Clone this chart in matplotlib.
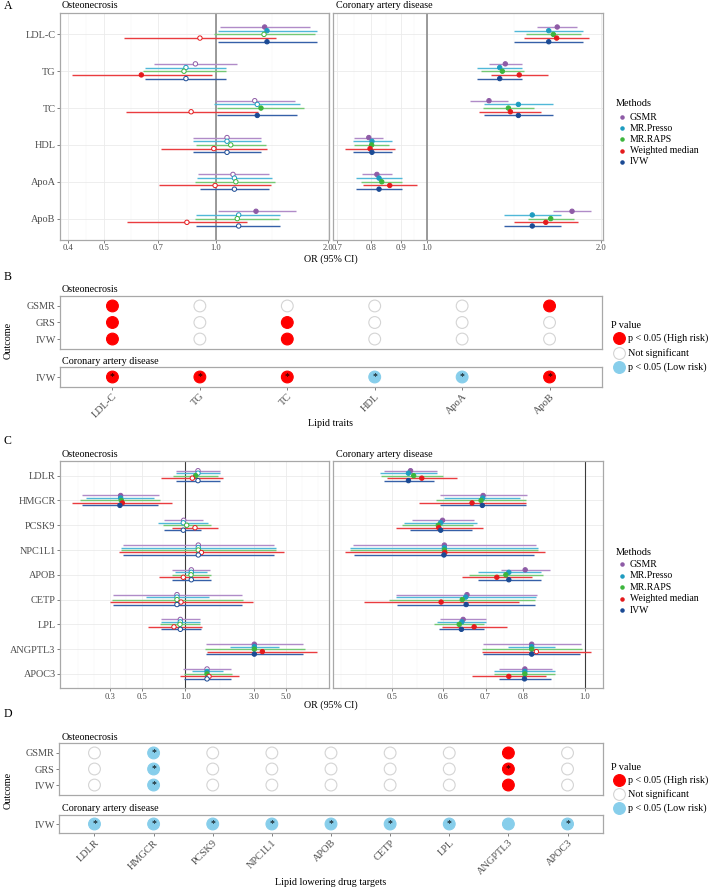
import numpy as np
import matplotlib.pyplot as plt
from matplotlib.ticker import FixedLocator, FixedFormatter, NullFormatter

plt.rcParams['font.family'] = ['Liberation Serif', 'DejaVu Serif']

# ---------------- data ----------------
methods = ['GSMR', 'MR.Presso', 'MR.RAPS', 'Weighted median', 'IVW']
point_colors = ['#8E5BA6', '#1E9CC0', '#3DB53D', '#E41A1C', '#1B4A94']
line_colors = ['#B08BC8', '#50B8D8', '#74C874', '#EA3C3F', '#3560A8']

lipid_traits = ['LDL-C', 'TG', 'TC', 'HDL', 'ApoA', 'ApoB']
drug_targets = ['LDLR', 'HMGCR', 'PCSK9', 'NPC1L1', 'APOB', 'CETP', 'LPL', 'ANGPTL3', 'APOC3']

# Panel A - osteonecrosis (rows: methods, columns: lipid traits)
a_on_or = [[1.35, 0.88, 1.27, 1.07, 1.11, 1.28],
           [1.37, 0.83, 1.29, 1.07, 1.12, 1.15],
           [1.345, 0.82, 1.32, 1.095, 1.13, 1.14],
           [0.905, 0.63, 0.857, 0.986, 0.994, 0.835],
           [1.37, 0.83, 1.29, 1.07, 1.12, 1.15]]
a_on_lo = [[1.025, 0.68, 0.994, 0.868, 0.896, 1.01],
           [1.01, 0.644, 0.986, 0.868, 0.89, 0.885],
           [0.99, 0.635, 1.006, 0.882, 0.876, 0.876],
           [0.567, 0.41, 0.573, 0.71, 0.704, 0.577],
           [1.01, 0.646, 1.006, 0.868, 0.905, 0.885]]
a_on_hi = [[1.79, 1.136, 1.63, 1.318, 1.385, 1.637],
           [1.867, 1.063, 1.68, 1.318, 1.41, 1.485],
           [1.84, 1.063, 1.726, 1.362, 1.437, 1.473],
           [1.449, 0.973, 1.294, 1.371, 1.402, 1.208],
           [1.867, 1.063, 1.65, 1.318, 1.39, 1.485]]
a_on_sig = [[1, 0, 0, 0, 0, 1],
            [1, 0, 0, 0, 0, 0],
            [0, 0, 1, 0, 0, 0],
            [0, 1, 0, 0, 0, 0],
            [1, 0, 1, 0, 0, 0]]

# Panel A - coronary artery disease
a_cad_or = [[1.68, 1.366, 1.28, 0.793, 0.819, 1.782],
            [1.624, 1.336, 1.439, 0.803, 0.826, 1.521],
            [1.654, 1.35, 1.383, 0.802, 0.835, 1.637],
            [1.676, 1.444, 1.394, 0.797, 0.862, 1.605],
            [1.624, 1.336, 1.439, 0.803, 0.826, 1.521]]
a_cad_lo = [[1.552, 1.28, 1.189, 0.749, 0.771, 1.654],
            [1.416, 1.22, 1.253, 0.744, 0.755, 1.359],
            [1.483, 1.242, 1.248, 0.749, 0.769, 1.497],
            [1.474, 1.289, 1.232, 0.721, 0.774, 1.413],
            [1.416, 1.22, 1.253, 0.744, 0.755, 1.359]]
a_cad_hi = [[1.82, 1.46, 1.379, 0.838, 0.87, 1.92],
            [1.862, 1.46, 1.65, 0.869, 0.905, 1.703],
            [1.847, 1.47, 1.53, 0.86, 0.906, 1.796],
            [1.909, 1.621, 1.577, 0.881, 0.961, 1.825],
            [1.862, 1.46, 1.65, 0.869, 0.905, 1.703]]
a_cad_sig = [[1, 1, 1, 1, 1, 1]] * 5

# Panel B - significance matrix (H: high risk, L: low risk, N: not significant)
b_on_rows = ['GSMR', 'GRS', 'IVW']
b_on_status = [['H', 'N', 'N', 'N', 'N', 'H'],
               ['H', 'N', 'H', 'N', 'N', 'N'],
               ['H', 'N', 'H', 'N', 'N', 'N']]
b_on_star = [[0, 0, 0, 0, 0, 0]] * 3
b_cad_rows = ['IVW']
b_cad_status = [['H', 'H', 'H', 'L', 'L', 'H']]
b_cad_star = [[1, 1, 1, 1, 1, 1]]

# Panel C - osteonecrosis (rows: methods, columns: drug targets)
c_on_or = [[1.226, 0.357, 0.976, 1.232, 1.102, 0.877, 0.925, 3.01, 1.416],
           [1.226, 0.357, 0.97, 1.232, 1.102, 0.877, 0.925, 3.01, 1.416],
           [1.182, 0.361, 1.024, 1.232, 1.097, 0.877, 0.92, 3.01, 1.416],
           [1.12, 0.367, 1.169, 1.293, 0.97, 0.935, 0.836, 3.42, 1.462],
           [1.226, 0.353, 0.97, 1.232, 1.102, 0.877, 0.925, 3.01, 1.416]]
c_on_lo = [[0.864, 0.194, 0.717, 0.369, 0.81, 0.318, 0.683, 1.393, 0.97],
           [0.864, 0.206, 0.651, 0.357, 0.854, 0.535, 0.683, 2.043, 1.115],
           [0.819, 0.187, 0.698, 0.357, 0.806, 0.31, 0.669, 1.365, 0.98],
           [0.683, 0.164, 0.814, 0.348, 0.655, 0.301, 0.553, 1.422, 0.92],
           [0.864, 0.194, 0.713, 0.369, 0.81, 0.318, 0.683, 1.393, 0.98]]
c_on_hi = [[1.742, 0.662, 1.335, 4.14, 1.485, 2.462, 1.266, 6.58, 2.066],
           [1.742, 0.608, 1.445, 4.26, 1.422, 1.462, 1.266, 4.44, 1.818],
           [1.695, 0.669, 1.502, 4.26, 1.502, 2.526, 1.266, 6.73, 2.10],
           [1.836, 0.806, 1.695, 4.83, 1.455, 2.935, 1.301, 8.22, 2.347],
           [1.742, 0.651, 1.293, 4.14, 1.502, 2.462, 1.28, 6.58, 2.066]]
c_on_sig = [[0, 1, 0, 0, 0, 0, 0, 1, 0],
            [0, 1, 0, 0, 0, 0, 0, 1, 1],
            [1, 1, 0, 0, 0, 0, 0, 1, 1],
            [0, 1, 0, 0, 0, 0, 0, 1, 0],
            [0, 1, 0, 0, 0, 0, 0, 1, 0]]

# Panel C - coronary artery disease
c_cad_or = [[0.535, 0.694, 0.600, 0.604, 0.807, 0.655, 0.646, 0.826, 0.806],
            [0.531, 0.693, 0.596, 0.604, 0.761, 0.652, 0.643, 0.826, 0.806],
            [0.541, 0.689, 0.591, 0.604, 0.753, 0.644, 0.637, 0.826, 0.806],
            [0.557, 0.667, 0.592, 0.605, 0.729, 0.597, 0.672, 0.84, 0.761],
            [0.531, 0.692, 0.596, 0.603, 0.761, 0.653, 0.642, 0.826, 0.805]]
c_cad_lo = [[0.487, 0.595, 0.537, 0.435, 0.739, 0.508, 0.595, 0.693, 0.735],
            [0.4795, 0.603, 0.523, 0.431, 0.681, 0.508, 0.588, 0.76, 0.722],
            [0.482, 0.586, 0.518, 0.431, 0.66, 0.495, 0.582, 0.69, 0.722],
            [0.491, 0.551, 0.508, 0.423, 0.643, 0.452, 0.598, 0.692, 0.666],
            [0.486, 0.595, 0.534, 0.437, 0.681, 0.509, 0.592, 0.694, 0.734]]
c_cad_hi = [[0.589, 0.811, 0.672, 0.839, 0.882, 0.843, 0.701, 0.985, 0.887],
            [0.588, 0.792, 0.68, 0.846, 0.855, 0.838, 0.701, 0.898, 0.898],
            [0.60, 0.808, 0.67, 0.846, 0.859, 0.836, 0.697, 0.988, 0.898],
            [0.631, 0.809, 0.694, 0.866, 0.828, 0.788, 0.755, 1.021, 0.87],
            [0.582, 0.808, 0.666, 0.834, 0.855, 0.836, 0.696, 0.983, 0.884]]
c_cad_sig = [[1, 1, 1, 1, 1, 1, 1, 1, 1],
             [1, 1, 1, 1, 1, 1, 1, 1, 1],
             [1, 1, 1, 1, 1, 1, 1, 1, 1],
             [1, 1, 1, 1, 1, 1, 1, 0, 1],
             [1, 1, 1, 1, 1, 1, 1, 1, 1]]

# Panel D - significance matrix
d_on_rows = ['GSMR', 'GRS', 'IVW']
d_on_status = [['N', 'L', 'N', 'N', 'N', 'N', 'N', 'H', 'N'],
               ['N', 'L', 'N', 'N', 'N', 'N', 'N', 'H', 'N'],
               ['N', 'L', 'N', 'N', 'N', 'N', 'N', 'H', 'N']]
d_on_star = [[0, 1, 0, 0, 0, 0, 0, 0, 0],
             [0, 1, 0, 0, 0, 0, 0, 1, 0],
             [0, 1, 0, 0, 0, 0, 0, 0, 0]]
d_cad_rows = ['IVW']
d_cad_status = [['L', 'L', 'L', 'L', 'L', 'L', 'L', 'L', 'L']]
d_cad_star = [[1, 1, 1, 1, 1, 1, 1, 0, 1]]

status_fill = {'H': '#FF0000', 'N': 'white', 'L': '#87CEEB'}
status_edge = {'H': '#FF0000', 'N': '#D4D4D4', 'L': '#87CEEB'}
pvalue_labels = ['p < 0.05 (High risk)', 'Not significant', 'p < 0.05 (Low risk)']

# ---------------- layout helpers ----------------
W, H = 709, 888
fig = plt.figure(figsize=(W / 100, H / 100), dpi=100)
GREY_TXT = '#4D4D4D'
BORDER = '#A8A8A8'


def add_ax(x0, y0, x1, y1):
    return fig.add_axes([x0 / W, 1 - y1 / H, (x1 - x0) / W, (y1 - y0) / H])


def minor_breaks(ticks, lim):
    b = list(np.log(ticks))
    bd = b[1] - b[0]
    lo, hi = np.log(lim)
    if lo < b[0]:
        b = [b[0] - bd] + b
    if hi > b[-1]:
        b = b + [b[-1] + bd]
    mids = [(p + q) / 2 for p, q in zip(b[:-1], b[1:])]
    extra = [b[0], b[-1]]
    vals = [v for v in mids + extra if lo < v < hi and not np.isclose(np.log(ticks), v).any()]
    return np.exp(vals)


def style_frame(ax):
    for s in ax.spines.values():
        s.set_color(BORDER)
        s.set_linewidth(0.9)


def forest(ax, labels, est, lo, hi, sig, xlim, ticks, ref_color, ref_lw, show_y):
    n = len(labels)
    rows = np.arange(n)
    ax.set_xscale('log')
    ax.set_axisbelow(True)
    ax.axvline(1.0, color=ref_color, lw=ref_lw, zorder=2)
    for j in range(len(methods)):
        y = rows + (j - 2) * 0.1
        ax.hlines(y, lo[j], hi[j], color=line_colors[j], lw=1.0, zorder=3)
        face = [point_colors[j] if s else 'white' for s in sig[j]]
        ax.scatter(est[j], y, s=10, marker='o', facecolors=face,
                   edgecolors=point_colors[j], linewidths=0.7, zorder=4)
    ax.set_xlim(*xlim)
    ax.set_ylim(n - 1 + 0.58, -0.58)
    ax.xaxis.set_major_locator(FixedLocator(ticks))
    ax.xaxis.set_major_formatter(FixedFormatter([f'{t:.1f}' for t in ticks]))
    ax.xaxis.set_minor_locator(FixedLocator(minor_breaks(ticks, xlim)))
    ax.xaxis.set_minor_formatter(NullFormatter())
    ax.set_yticks(rows)
    ax.set_yticklabels(labels if show_y else [])
    ax.grid(True, which='major', color='#EBEBEB', lw=0.6)
    ax.grid(True, which='minor', axis='x', color='#F3F3F3', lw=0.35)
    ax.tick_params(axis='x', which='major', length=2.2, width=0.5, color=GREY_TXT,
                   labelsize=6.2, labelcolor=GREY_TXT, pad=1)
    ax.tick_params(axis='x', which='minor', length=0)
    ax.tick_params(axis='y', length=2.2 if show_y else 0, width=0.5, color=GREY_TXT,
                   labelsize=7.4, labelcolor=GREY_TXT, pad=1)
    style_frame(ax)


def dot_panel(ax, rows, cols, status, stars, show_x):
    xs, ys, fc, ec = [], [], [], []
    for i in range(len(rows)):
        for k in range(len(cols)):
            xs.append(k)
            ys.append(i)
            fc.append(status_fill[status[i][k]])
            ec.append(status_edge[status[i][k]])
            if stars[i][k]:
                ax.text(k, i, '*', ha='center', va='center', fontsize=7, color='black', zorder=5)
    ax.scatter(xs, ys, s=72, c=fc, edgecolors=ec, linewidths=0.8, zorder=3)
    ax.set_xlim(-0.6, len(cols) - 0.4)
    ax.set_ylim(len(rows) - 1 + 0.62, -0.62)
    ax.set_yticks(range(len(rows)))
    ax.set_yticklabels(rows)
    ax.set_xticks(range(len(cols)))
    if show_x:
        ax.set_xticklabels(cols, rotation=45, ha='right', va='top', rotation_mode='anchor')
    else:
        ax.set_xticklabels([])
    ax.tick_params(axis='x', length=2.2 if show_x else 0, width=0.5, color=GREY_TXT,
                   labelsize=7.5, labelcolor=GREY_TXT, pad=1.5)
    ax.tick_params(axis='y', length=2.2, width=0.5, color=GREY_TXT,
                   labelsize=7.4, labelcolor=GREY_TXT, pad=1)
    style_frame(ax)


# ---------------- overlay for titles / legends ----------------
ov = fig.add_axes([0, 0, 1, 1], zorder=10)
ov.set_xlim(0, W)
ov.set_ylim(H, 0)
ov.axis('off')


def txt(x, y, s, size=7.3, **kw):
    ov.text(x, y, s, fontsize=size, va='center', **kw)


def methods_legend(y_title, y_items):
    txt(616, y_title, 'Methods', 7.4)
    for j, m in enumerate(methods):
        ov.scatter([622], [y_items[j]], s=5, marker='o', color=point_colors[j])
        txt(630, y_items[j], m, 7.0)


def pvalue_legend(y_title, y_items):
    txt(611, y_title, 'P value', 7.3)
    for code, lab, y in zip(['H', 'N', 'L'], pvalue_labels, y_items):
        ov.scatter([619], [y], s=72, c=status_fill[code], edgecolors=status_edge[code], linewidths=0.8)
        txt(628, y, lab, 7.3)


# ---------------- Panel A ----------------
axA1 = add_ax(60, 13, 329, 240)
forest(axA1, lipid_traits, a_on_or, a_on_lo, a_on_hi, a_on_sig,
       (0.381, 2.01), [0.4, 0.5, 0.7, 1.0, 2.0], '#8A8A8A', 1.2, True)
axA2 = add_ax(333, 13, 603, 240)
forest(axA2, lipid_traits, a_cad_or, a_cad_lo, a_cad_hi, a_cad_sig,
       (0.6876, 2.016), [0.7, 0.8, 0.9, 1.0, 2.0], '#8A8A8A', 1.2, False)
txt(4, 6, 'A', 8.5)
txt(62, 6, 'Osteonecrosis')
txt(336, 6, 'Coronary artery disease')
txt(331, 259, 'OR (95% CI)', 7.2, ha='center')
methods_legend(104, [117, 128.2, 139.4, 150.6, 161.8])

# ---------------- Panel B ----------------
axB1 = add_ax(60, 295.7, 602, 349.3)
dot_panel(axB1, b_on_rows, lipid_traits, b_on_status, b_on_star, False)
axB2 = add_ax(60, 367.3, 602, 386.7)
dot_panel(axB2, b_cad_rows, lipid_traits, b_cad_status, b_cad_star, True)
txt(4, 277, 'B', 8.5)
txt(62, 289, 'Osteonecrosis')
txt(62, 361, 'Coronary artery disease')
txt(8, 340, 'Outcome', 7.3, rotation=90, ha='center')
txt(331, 423, 'Lipid traits', 7.3, ha='center')
pvalue_legend(325, [338.5, 353, 367.5])

# ---------------- Panel C ----------------
axC1 = add_ax(60, 461.3, 329, 688.3)
forest(axC1, drug_targets, c_on_or, c_on_lo, c_on_hi, c_on_sig,
       (0.1358, 9.9), [0.3, 0.5, 1.0, 3.0, 5.0], '#3C3C3C', 0.8, True)
axC2 = add_ax(333.3, 461.3, 602.7, 688.3)
forest(axC2, drug_targets, c_cad_or, c_cad_lo, c_cad_hi, c_cad_sig,
       (0.4056, 1.0655), [0.5, 0.6, 0.7, 0.8, 1.0], '#3C3C3C', 0.8, False)
txt(4, 441, 'C', 8.5)
txt(62, 454, 'Osteonecrosis')
txt(336, 454, 'Coronary artery disease')
txt(331, 705, 'OR (95% CI)', 7.2, ha='center')
methods_legend(552, [564, 575.5, 587, 598.5, 610])

# ---------------- Panel D ----------------
axD1 = add_ax(59, 743, 603, 795)
dot_panel(axD1, d_on_rows, drug_targets, d_on_status, d_on_star, False)
axD2 = add_ax(59, 815, 603, 833)
dot_panel(axD2, d_cad_rows, drug_targets, d_cad_status, d_cad_star, True)
txt(4, 714, 'D', 8.5)
txt(62, 737, 'Osteonecrosis')
txt(62, 808, 'Coronary artery disease')
txt(8, 790, 'Outcome', 7.3, rotation=90, ha='center')
txt(331, 882, 'Lipid lowering drug targets', 7.3, ha='center')
pvalue_legend(767, [780, 794, 808])

fig.savefig('out.png', dpi=100)
